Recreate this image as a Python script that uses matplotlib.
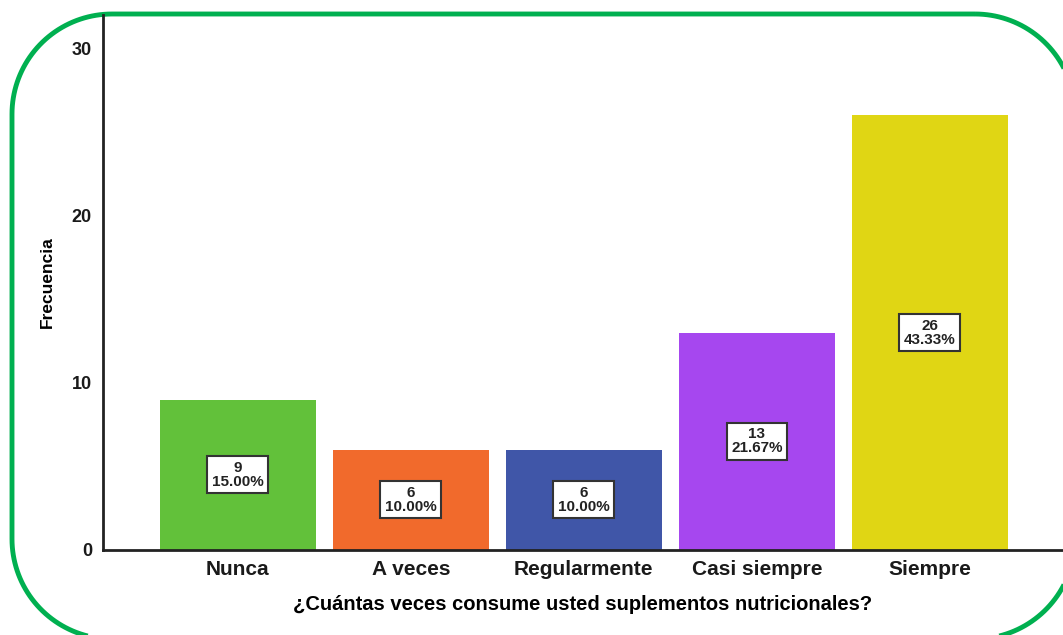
import numpy as np
import matplotlib.pyplot as plt
from matplotlib.patches import Polygon

categorias = ["Nunca", "A veces", "Regularmente", "Casi siempre", "Siempre"]
frecuencias = [9, 6, 6, 13, 26]
porcentajes = ["15.00%", "10.00%", "10.00%", "21.67%", "43.33%"]
colores = ["#62c13a", "#f16a2c", "#4056a8", "#a647ef", "#e0d614"]

plt.rcParams['font.family'] = ['Liberation Sans', 'DejaVu Sans']

W, H = 1063, 635
fig = plt.figure(figsize=(W / 100, H / 100), dpi=100)

# marco verde redondeado, en coordenadas de pixel (y hacia abajo)
fondo = fig.add_axes([0, 0, 1, 1])
fondo.set_xlim(0, W)
fondo.set_ylim(H, 0)
fondo.axis("off")

x0, y0, x1, y1, r = 12, 14, 1075, 639, 100
esquinas = [((x1 - r, y0 + r), -90, 0), ((x1 - r, y1 - r), 0, 90),
            ((x0 + r, y1 - r), 90, 180), ((x0 + r, y0 + r), 180, 270)]
pts = []
for (cx, cy), a0, a1 in esquinas:
    t = np.radians(np.linspace(a0, a1, 40))
    pts.extend(zip(cx + r * np.cos(t), cy + r * np.sin(t)))
fondo.add_patch(Polygon(pts, closed=True, fill=False, ec="#00b050",
                        lw=3.5, joinstyle="round", clip_on=False))

ax = fig.add_axes([103 / W, 85 / H, 960 / W, 535 / H])
ax.patch.set_alpha(0)

x = list(range(len(categorias)))
ax.bar(x, frecuencias, width=0.9, color=colores, zorder=2)

for xi, f, p in zip(x, frecuencias, porcentajes):
    ax.text(xi, f / 2, f"{f}\n{p}", ha="center", va="center", fontsize=11,
            fontweight="bold", color="#222222", linespacing=1.0,
            bbox=dict(boxstyle="square,pad=0.3", fc="white", ec="#333333", lw=1.5),
            zorder=3)

ax.set_xlim(-0.78, 4.77)
ax.set_ylim(0, 32)
ax.set_yticks([0, 10, 20, 30])
ax.set_xticks(x)
ax.set_xticklabels(categorias)
ax.tick_params(axis="x", length=0, labelsize=15, pad=7)
ax.tick_params(axis="y", length=0, labelsize=13, pad=8)
for lbl in ax.get_xticklabels() + ax.get_yticklabels():
    lbl.set_fontweight("bold")
    lbl.set_color("#1a1a1a")

for s in ["top", "right"]:
    ax.spines[s].set_visible(False)
for s in ["left", "bottom"]:
    ax.spines[s].set_linewidth(2)
    ax.spines[s].set_color("#222222")

ax.set_ylabel("Frecuencia", fontsize=12.5, fontweight="bold", labelpad=12)
ax.set_xlabel("¿Cuántas veces consume usted suplementos nutricionales?",
              fontsize=14.5, fontweight="bold", labelpad=12)

fig.savefig("out.png", dpi=100)
